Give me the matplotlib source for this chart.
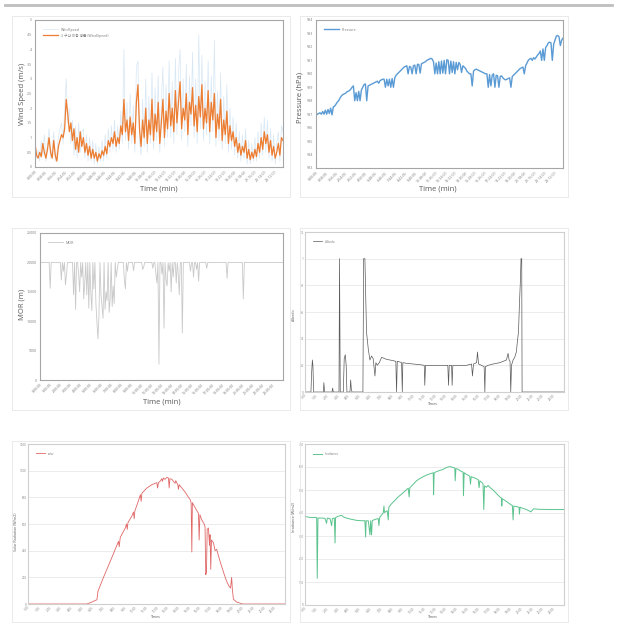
import numpy as np
import matplotlib
matplotlib.use('Agg')
import matplotlib.pyplot as plt
from matplotlib.patches import Rectangle
from matplotlib.lines import Line2D

plt.rcParams['font.family'] = ['Open Sans', 'Noto Sans CJK KR', 'DejaVu Sans']

# ---- data ----
# wind speed, 3-point moving average (orange) and raw (faint blue)
wind_ma = [0.8, 0.4, 0.3, 0.5, 0.35, 0.8, 0.5, 0.3, 0.6, 1.0, 0.5, 0.3, 0.9, 0.4, 0.2, 0.7,
           0.9, 1.1, 1.0, 1.3, 2.3,
           1.8, 1.2, 1.5, 0.9, 1.3, 0.6, 1.0, 0.5, 1.2, 0.7,
           1.0, 0.5, 0.8, 0.4, 0.7, 0.3, 0.6, 0.3, 0.5, 0.2, 0.45, 0.3,
           0.55, 0.4, 0.7, 0.45, 0.9, 0.7, 1.0, 0.8,
           1.2, 0.7, 1.0, 0.8, 1.4, 1.1, 2.3,
           1.2, 1.6, 0.9, 1.7, 1.1, 1.5, 0.8,
           2.2, 2.8, 1.3, 0.7, 1.6, 1.0,
           2.0, 0.8, 1.6, 1.1, 2.3, 0.9, 1.8, 1.2, 2.2, 0.8, 1.5, 2.3, 1.0, 1.9, 1.3,
           2.5, 1.4, 2.0, 1.2, 2.6, 1.5, 2.2, 2.9, 1.3, 2.0, 1.6, 2.5, 1.1, 2.2, 1.8,
           2.7, 1.4, 2.1, 1.2, 2.4, 1.7, 2.8, 1.3, 2.0, 1.5,
           2.6, 1.2, 2.2, 1.6, 2.5, 1.0, 1.8, 1.3, 2.3, 0.9, 1.6, 1.1, 1.9, 0.8, 1.4, 0.9, 1.2, 0.7,
           1.0, 0.5, 0.8, 0.4, 0.7, 0.5, 0.9, 0.3, 0.6, 0.25, 0.5, 0.3,
           0.6, 0.35, 0.8, 0.5, 1.0, 0.6, 1.2, 0.8, 1.1, 0.5, 0.9, 0.4, 0.7, 0.3, 0.5, 0.8, 0.4, 1.0, 0.9]
wind_raw = [1.0, 0.3, 0.6, 0.2, 0.9, 0.4, 1.1, 0.2, 0.8, 1.3, 0.3, 0.6, 1.2, 0.2, 0.5, 1.0,
            1.3, 1.5, 0.8, 2.0, 3.0,
            1.5, 2.0, 0.8, 1.6, 0.4, 1.4, 0.3, 1.5, 0.5, 1.2,
            1.3, 0.3, 1.1, 0.2, 1.0, 0.2, 0.9, 0.1, 0.8, 0.1, 0.7, 0.2,
            0.9, 0.2, 1.1, 0.3, 1.3, 0.5, 1.4, 0.6,
            1.6, 0.5, 1.4, 0.6, 1.9, 0.8, 4.0,
            0.9, 2.2, 0.6, 2.5, 0.8, 2.1, 0.5,
            3.4, 3.6, 0.9, 0.4, 2.3, 0.7,
            3.0, 0.5, 2.4, 0.8, 3.2, 0.6, 2.7, 0.9, 3.1, 0.5, 2.2, 3.4, 0.7, 2.8, 1.0,
            3.6, 1.0, 2.9, 0.8, 3.7, 1.1, 3.2, 4.0, 0.9, 3.0, 1.2, 3.5, 0.7, 3.1, 1.4,
            3.9, 1.0, 3.0, 0.8, 4.5, 1.3, 3.8, 0.9, 2.9, 1.1,
            3.6, 0.8, 3.1, 1.2, 4.3, 0.7, 2.6, 0.9, 3.2, 0.6, 2.4, 0.8, 2.8, 0.5, 2.0, 0.6, 1.7, 0.4,
            1.5, 0.3, 1.2, 0.2, 1.1, 0.3, 1.3, 0.1, 0.9, 0.1, 0.8, 0.2,
            1.0, 0.2, 1.2, 0.3, 1.5, 0.4, 1.7, 0.5, 1.6, 0.3, 1.3, 0.2, 1.1, 0.1, 0.8, 1.2, 0.2, 1.4, 1.2]

pressure = [986.9, 987.0, 987.05, 987.1, 987.0, 987.2, 987.0, 987.3, 987.0, 987.35,
            987.05, 987.45, 986.95, 987.55, 987.6, 987.75, 987.9, 988.0, 988.2, 988.35,
            988.45, 988.5, 988.55, 988.65, 988.7, 988.75, 988.85, 989.0, 989.1, 988.0,
            988.6, 988.0, 988.7, 988.0, 988.8, 989.0, 989.2, 989.25, 988.0, 989.1,
            989.15, 989.2, 989.25, 989.3, 989.35, 989.4, 989.45, 989.3, 989.5, 989.55,
            989.6, 989.6, 989.0, 989.6, 989.1, 989.6, 989.0, 989.65, 989.0, 989.7,
            989.9, 990.0, 990.1, 990.2, 990.3, 990.4, 990.5, 990.55, 990.6, 990.0,
            990.55, 990.5, 990.0, 990.6, 990.65, 990.0, 990.7, 990.7, 990.05, 990.75,
            990.8, 990.85, 990.9, 991.0, 991.05, 991.1, 991.15, 991.1, 990.9, 990.0,
            990.8, 990.0, 990.9, 990.0, 990.95, 990.05, 991.0, 990.0, 991.05, 991.0,
            990.0, 990.95, 990.1, 990.9, 990.0, 990.85, 990.3, 990.85, 990.7, 990.1,
            990.6, 990.5, 990.4, 990.2, 990.1, 990.0, 990.0, 989.1, 990.2, 990.3,
            990.35, 990.3, 990.25, 990.2, 990.15, 990.1, 990.05, 990.0, 990.0, 989.0,
            989.95, 989.1, 989.9, 990.0, 989.0, 989.9, 989.85, 989.0, 989.8, 989.85,
            989.7, 989.6, 989.55, 989.6, 989.65, 989.7, 989.0, 989.8, 989.9, 990.0,
            990.1, 990.2, 990.3, 990.4, 990.45, 990.5, 990.0, 990.6, 990.8, 991.0,
            991.1, 991.15, 991.0, 991.2, 991.1, 991.25, 991.4, 991.5, 991.7, 991.0,
            991.85, 991.0, 991.95, 992.1, 992.3, 992.35, 992.3, 991.0, 992.2, 992.5,
            992.8, 992.85, 992.75, 992.1, 992.5, 992.65]

# MOR: constant 20000 m with short drops (sample index, value)
mor_base = 20000
mor_n = 240
mor_dip_idx = [10, 21, 23, 25, 26, 33, 35, 38, 39, 41, 43, 44, 46, 48, 50, 51, 53, 55, 56, 57,
               58, 60, 61, 62, 64, 65, 66, 68, 69, 71, 72, 73, 75, 76, 83, 84, 86, 92, 101, 102,
               111, 114, 115, 117, 120, 122, 124, 125, 127, 129, 131, 134, 136, 137, 140,
               148, 151, 154, 156, 164, 184, 200]
mor_dip_val = [15600, 17000, 18500, 16200, 17800, 14500, 12000, 18000, 15000, 17500, 13800, 16500,
               14500, 12200, 14800, 11800, 15500, 13000, 9800, 7000, 11000, 14500, 12500, 10500,
               12000, 15000, 13500, 11500, 13800, 12500, 16000, 13000, 17500, 18800, 17000, 15500,
               18500, 18600, 18800, 19200, 19000, 18000, 16500, 2700, 18000, 8800, 17000, 16000,
               18500, 15000, 17500, 16500, 18000, 14500, 8000, 18500, 17500, 18800, 16800, 19000,
               17300, 13800]

# albedo (minute, value)
albedo_t = [0, 33, 37, 41, 44, 48, 102, 105, 109, 150, 154, 157, 189, 192, 196, 213, 218, 224, 229, 233,
            250, 254, 257, 261, 322, 326, 333, 342, 352, 361, 370, 379, 389, 394, 402, 413, 426, 435,
            453, 472, 491, 505, 509, 513, 528, 537, 541, 544, 565, 602, 639, 663, 666, 670, 713, 750,
            787, 794, 798, 802, 815, 818, 822, 861, 898, 926, 931, 937, 954, 959, 965, 981, 996, 1000,
            1003, 1018, 1046, 1083, 1120, 1129, 1135, 1140, 1144, 1148, 1157, 1166, 1175, 1181, 1187,
            1192, 1198, 1201, 1205, 1207, 1440]
albedo_v = [0, 0, 0.15, 0.24, 0.2, 0, 0, 0.07, 0, 0, 0.03, 0, 0, 1.0, 0, 0, 0.25, 0.28, 0.2, 0,
            0, 0.09, 0.03, 0, 0, 1.0, 1.0, 0.45, 0.32, 0.24, 0.27, 0.25, 0.12, 0.22, 0.2, 0.22, 0.26, 0.255,
            0.245, 0.24, 0.235, 0.23, 0, 0.23, 0.225, 0.22, 0, 0.22, 0.215, 0.21, 0.205, 0.2, 0.05, 0.2, 0.2, 0.2,
            0.2, 0.2, 0.05, 0.2, 0.2, 0.05, 0.2, 0.2, 0.2, 0.21, 0.12, 0.21, 0.22, 0.3, 0.21, 0.2, 0.19, 0,
            0.19, 0.2, 0.21, 0.22, 0.24, 0.29, 0.24, 0.23, 0, 0.2, 0.24, 0.26, 0.3, 0.38, 0.45,
            0.65, 0.85, 1.0, 1.0, 0, 0]

# solar radiation (minute, W/m2)
solar_t = [0, 330, 358, 386, 392, 423, 461, 498, 507, 511, 517, 545, 552, 556, 560, 582, 591, 595, 599,
           610, 625, 630, 634, 638, 666, 694, 722, 726, 731, 740, 750, 753, 759, 768, 778, 787, 791, 795,
           806, 815, 824, 828, 839, 843, 847, 862, 880, 899, 908, 914, 918, 921, 927, 946, 955, 959, 963,
           974, 987, 992, 996, 1000, 1004, 1011, 1017, 1020, 1024, 1028, 1039, 1048, 1057, 1076, 1095,
           1113, 1128, 1135, 1141, 1145, 1151, 1169, 1197, 1207, 1440]
solar_v = [0, 0, 15, 32, 95, 200, 320, 440, 470, 430, 500, 570, 600, 560, 610, 660, 690, 640, 700,
           740, 800, 820, 770, 830, 870, 895, 910, 870, 910, 920, 940, 920, 945, 935, 950, 945, 870, 940,
           935, 920, 905, 925, 895, 860, 895, 870, 840, 800, 785, 760, 390, 760, 745, 700, 680, 480, 670,
           630, 600, 580, 220, 240, 560, 570, 440, 520, 260, 480, 460, 400, 410, 320, 240,
           170, 130, 120, 200, 110, 35, 15, 2, 0, 0]

# irradiance (minute, W/m2)
irr_t = [0, 19, 37, 56, 65, 68, 72, 93, 111, 120, 124, 139, 148, 152, 163, 167, 170, 185, 204, 213,
         231, 250, 268, 287, 305, 324, 333, 337, 340, 352, 361, 365, 370, 374, 389, 407, 411, 415, 426,
         435, 439, 442, 457, 463, 466, 481, 500, 518, 537, 555, 574, 579, 583, 602, 620, 639, 657, 676,
         694, 713, 715, 718, 731, 750, 768, 787, 805, 814, 824, 833, 835, 839, 852, 870, 879, 881, 885,
         898, 916, 920, 924, 944, 963, 968, 972, 987, 990, 994, 998, 1009, 1018, 1027, 1046, 1064, 1083,
         1092, 1094, 1097, 1120, 1138, 1153, 1157, 1161, 1175, 1190, 1192, 1196, 1212, 1231, 1249, 1255,
         1264, 1271, 1305, 1360, 1440]
irr_v = [385, 382, 380, 381, 380, 116, 378, 378, 377, 355, 378, 376, 345, 376, 378, 270, 380, 386, 390, 383,
         378, 374, 371, 368, 367, 366, 367, 295, 366, 366, 305, 366, 305, 367, 372, 376, 345, 380, 392,
         400, 430, 402, 410, 370, 425, 440, 455, 470, 482, 495, 508, 470, 510, 525, 540, 550, 558, 565,
         570, 575, 480, 574, 580, 585, 590, 598, 602, 600, 598, 595, 540, 593, 590, 580, 578, 475, 575,
         568, 560, 525, 558, 552, 545, 510, 540, 530, 525, 415, 518, 512, 520, 512, 500, 485, 470,
         465, 430, 462, 450, 440, 432, 370, 430, 428, 425, 395, 425, 420, 415, 408, 405,
         412, 418, 416, 415, 415]

# ---- layout helpers (pixel coords of a 622x630 image) ----
W, H = 622, 630
fig = plt.figure(figsize=(W / 100, H / 100), dpi=100)


def px_axes(l, t, r, b):
    return fig.add_axes([l / W, 1 - b / H, (r - l) / W, (b - t) / H])


def box(l, t, r, b):
    fig.add_artist(Rectangle((l / W, 1 - b / H), (r - l) / W, (b - t) / H,
                             transform=fig.transFigure, fill=False, ec='#E6E6E6', lw=0.6))


def ftext(x, y, s, size, rot=0, color='#595959'):
    fig.text(x / W, 1 - y / H, s, fontsize=size, rotation=rot, ha='center', va='center', color=color)


def hhmm(m, sec=False):
    return f'{int(m) // 60}:{int(m) % 60:02d}' + (':00' if sec else '')


def style(ax, spine_col, grid=False):
    for s in ax.spines.values():
        s.set_color(spine_col)
        s.set_linewidth(0.8)
    ax.tick_params(length=0, labelsize=2.6, colors='#7F7F7F', pad=2)
    if grid:
        ax.yaxis.grid(True, color='#E4E4E4', lw=0.5)
        ax.set_axisbelow(True)


def time_ticks(ax, step, count, sec):
    ticks = [i * step for i in range(count)]
    ax.set_xticks(ticks)
    ax.set_xticklabels([hhmm(t, sec) for t in ticks], rotation=45, ha='right', rotation_mode='anchor')
    ax.set_xlim(0, 1440)


# top rule
fig.add_artist(Line2D([5 / W, 612 / W], [1 - 5 / H, 1 - 5 / H], color='#BFBFBF', lw=2))

for b in [(12, 16, 290, 197), (300, 16, 568, 197), (12, 228, 290, 410),
          (300, 228, 568, 410), (12, 441, 290, 622), (300, 441, 568, 622)]:
    box(*b)

# 1 wind speed
ax1 = px_axes(35, 20, 283, 167)
ax1.plot(np.linspace(0, 1440, len(wind_raw)), wind_raw, color='#BDD7EE', lw=0.5, alpha=0.6,
         label='WindSpeed')
ax1.plot(np.linspace(0, 1440, len(wind_ma)), wind_ma, color='#ED7D31', lw=0.9,
         label='3 구간 이동 평균 (WindSpeed)')
ax1.set_ylim(0, 5)
ax1.set_yticks(np.arange(0, 5.01, 0.5))
ax1.set_yticklabels(['0', '0.5', '1', '1.5', '2', '2.5', '3', '3.5', '4', '4.5', '5'])
time_ticks(ax1, 58, 25, True)
style(ax1, '#A6A6A6')
ax1.legend(loc='upper left', frameon=False, fontsize=2.6, handlelength=4, bbox_to_anchor=(0.02, 0.97),
           labelcolor='#7F7F7F')
ftext(22, 94, 'Wind Speed (m/s)', 5.5, 90)
ftext(159, 189, 'Time (min)', 5.5)

# 2 pressure
ax2 = px_axes(316, 20, 563, 168)
ax2.plot(np.linspace(0, 1440, len(pressure)), pressure, color='#5B9BD5', lw=1.0, label='Pressure')
ax2.set_ylim(983, 994)
ax2.set_yticks(range(983, 995))
time_ticks(ax2, 58, 25, True)
style(ax2, '#A6A6A6')
ax2.legend(loc='upper left', frameon=False, fontsize=2.6, handlelength=4, bbox_to_anchor=(0.02, 0.97),
           labelcolor='#7F7F7F')
ftext(300, 97, 'Pressure (hPa)', 5.5, 90)
ftext(438, 189, 'Time (min)', 5.5)

# 3 MOR
mor = [mor_base] * mor_n
for i, v in zip(mor_dip_idx, mor_dip_val):
    mor[i] = v
ax3 = px_axes(40, 233, 283, 380)
ax3.plot(np.linspace(0, 1440, mor_n), mor, color='#C9C9C9', lw=0.6, label='MOR')
ax3.set_ylim(0, 25000)
ax3.set_yticks(range(0, 25001, 5000))
time_ticks(ax3, 60, 24, True)
style(ax3, '#A6A6A6')
ax3.legend(loc='upper left', frameon=False, fontsize=2.6, handlelength=4, bbox_to_anchor=(0.02, 0.97),
           labelcolor='#7F7F7F')
ftext(22, 304, 'MOR (m)', 5.5, 90)
ftext(162, 402, 'Time (min)', 5.5)

# 4 albedo
ax4 = px_axes(305, 232, 564, 392)
ax4.plot(albedo_t, albedo_v, color='#595959', lw=0.5, label='Albedo')
ax4.set_ylim(0, 1.2)
ax4.set_yticks([0, 0.2, 0.4, 0.6, 0.8, 1, 1.2])
ax4.set_yticklabels(['0', '0.2', '0.4', '0.6', '0.8', '1', '1.2'])
time_ticks(ax4, 60, 24, False)
style(ax4, '#CFCFCF', grid=True)
ax4.tick_params(labelsize=2.2, pad=1)
ax4.legend(loc='upper left', frameon=False, fontsize=2.2, handlelength=3, bbox_to_anchor=(0.02, 0.97),
           labelcolor='#7F7F7F')
ftext(294, 315, 'Albedo', 2.6, 90)
ftext(433, 404, 'Times', 2.6)

# 5 solar
ax5 = px_axes(28, 444, 285, 604)
ax5.plot(solar_t, solar_v, color='#E06666', lw=0.6, label='solar')
ax5.set_ylim(0, 1200)
ax5.set_yticks(range(0, 1201, 200))
time_ticks(ax5, 60, 24, False)
style(ax5, '#CFCFCF', grid=True)
ax5.tick_params(labelsize=2.2, pad=1)
ax5.legend(loc='upper left', frameon=False, fontsize=2.2, handlelength=3, bbox_to_anchor=(0.02, 0.97),
           labelcolor='#7F7F7F')
ftext(16, 532, 'Solar Radiation (W/m2)', 2.6, 90)
ftext(156, 617, 'Times', 2.6)

# 6 irradiance
ax6 = px_axes(305, 444, 564, 605)
ax6.plot(irr_t, irr_v, color='#5CC38E', lw=0.7, label='Irradiance')
ax6.set_ylim(0, 700)
ax6.set_yticks(range(0, 701, 100))
time_ticks(ax6, 60, 24, False)
style(ax6, '#CFCFCF', grid=True)
ax6.tick_params(labelsize=2.2, pad=1)
ax6.legend(loc='upper left', frameon=False, fontsize=2.2, handlelength=3, bbox_to_anchor=(0.02, 0.97),
           labelcolor='#7F7F7F')
ftext(294, 517, 'Irradiance (W/m2)', 2.6, 90)
ftext(433, 617, 'Times', 2.6)

fig.savefig('out.png', dpi=100, facecolor='white')
